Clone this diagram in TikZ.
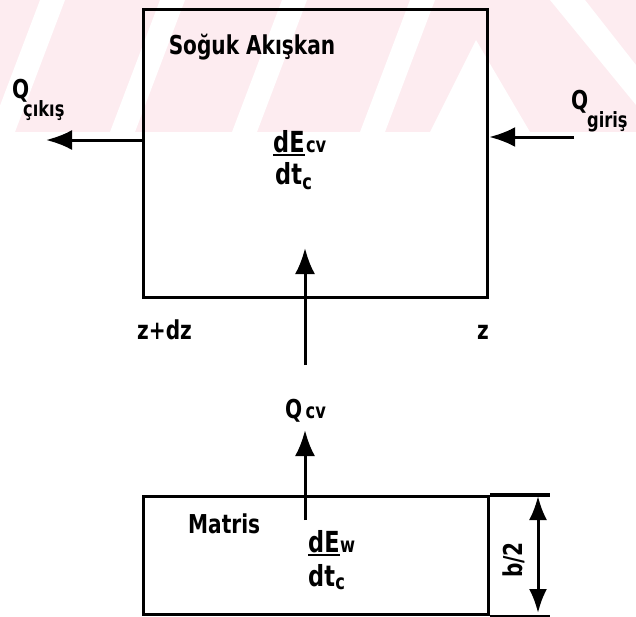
\documentclass[tikz,border=0pt]{standalone}
\usepackage{fontspec}
\usetikzlibrary{arrows.meta}
\newfontfamily\labfont{DejaVu Sans Condensed Bold}[FakeStretch=0.86]
\definecolor{wmpink}{RGB}{253,236,240}
\tikzset{
  box/.style={draw=black, line width=3.2pt, inner sep=0pt},
  flow/.style={draw=black, line width=3pt, -{Latex[length=26pt,width=20pt]}},
  dimline/.style={draw=black, line width=3pt, {Latex[length=24pt,width=18pt]}-{Latex[length=24pt,width=18pt]}},
  lab/.style={inner sep=0pt, font=\labfont\fontsize{26}{28}\selectfont},
  biglab/.style={inner sep=0pt, font=\labfont\fontsize{29}{31}\selectfont},
  sublab/.style={inner sep=0pt, font=\labfont\fontsize{21}{23}\selectfont},
  bar/.style={draw=black, line width=2.6pt}
}
\begin{document}
\begin{tikzpicture}[x=1pt,y=-1pt]
\useasboundingbox (0,0) rectangle (636,616);
% watermark band
\fill[wmpink] (0,0) rectangle (636,132);
\fill[white] (-10,132) -- (15,132) -- (65,0) -- (40,0) -- cycle;
\fill[white] (110,132) -- (135,132) -- (185,0) -- (160,0) -- cycle;
\fill[white] (232,132) -- (257,132) -- (307,0) -- (282,0) -- cycle;
\fill[white] (360,132) -- (385,132) -- (435,0) -- (410,0) -- cycle;
\fill[white] (430,132) -- (476,40) -- (530,132) -- cycle;
\fill[white] (550,0) -- (585,0) -- (636,65) -- (636,105) -- cycle;
% boxes
\node[box, anchor=north west, minimum width=344pt, minimum height=288pt] (cold) at (142,8) {};
\node[box, anchor=north west, minimum width=345pt, minimum height=118pt] (mat) at (142,495) {};
\coordinate (xr) at (550,495);
\draw[box] (mat.north east) -- (xr |- mat.north);
\draw[box] (mat.south east) -- (xr |- mat.south);
% horizontal flows
\coordinate (qout) at (46,140);
\coordinate (qin) at (574,137);
\draw[flow] (cold.west |- qout) -- (qout);
\draw[flow] (qin) -- (qin -| cold.east);
% vertical flows
\coordinate (u0) at (305,365);
\coordinate (u1) at (305,248);
\draw[flow] (u0) -- (u1);
\coordinate (l0) at (305,520);
\coordinate (l1) at (305,430);
\draw[flow] (l0) -- (l1);
% dimension b/2
\coordinate (d0) at (538,496);
\coordinate (d1) at (538,613);
\draw[dimline] (d0) -- (d1);
\node[lab, rotate=90] (bh) at (514,560) {b/2};
% texts
\node[lab] (soguk) at (252,47) {Soğuk Akışkan};
\node[lab, anchor=base west] (q1) at (12,98) {Q};
\node[sublab, anchor=base west] (q1s) at (23,116) {çıkış};
\node[lab, anchor=base west] (q2) at (571,109) {Q};
\node[sublab, anchor=base west] (q2s) at (587,127) {giriş};
\node[biglab, anchor=base west] (dE1) at (273,152) {dE};
\node[sublab, anchor=base west] (cv1) at ([xshift=1pt]dE1.base east) {cv};
\draw[bar] ([yshift=-3pt]dE1.base west) -- ([yshift=-3pt]dE1.base east);
\node[biglab, anchor=base west] (dt1) at (275,184) {dt};
\node[sublab, anchor=base west] (c1) at ([yshift=-5pt]dt1.base east) {c};
\node[lab, anchor=base west] (zl) at (137,339) {z+dz};
\node[lab, anchor=base west] (zr) at (477,339) {z};
\node[lab, anchor=base west] (qc) at (285,418) {Q};
\node[sublab, anchor=base west] (qcs) at ([xshift=3pt]qc.base east) {cv};
\node[lab, anchor=base west] (matr) at (188,533) {Matris};
\node[biglab, anchor=base west] (dE2) at (308,552) {dE};
\node[sublab, anchor=base west] (w2) at (dE2.base east) {w};
\draw[bar] ([yshift=-3pt]dE2.base west) -- ([yshift=-3pt]dE2.base east);
\node[biglab, anchor=base west] (dt2) at (308,586) {dt};
\node[sublab, anchor=base west] (c2) at ([yshift=-3pt]dt2.base east) {c};
\end{tikzpicture}
\end{document}
